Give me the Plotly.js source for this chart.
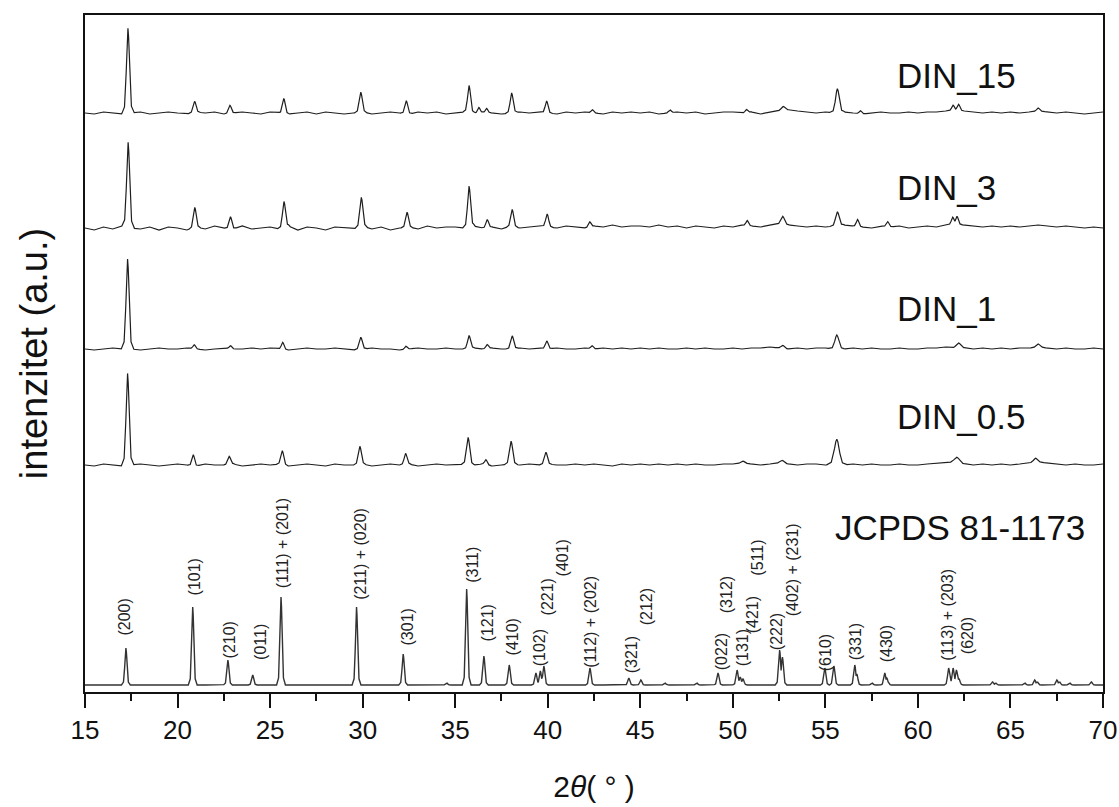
<!DOCTYPE html>
<html>
<head>
<meta charset="utf-8">
<script src="https://cdn.plot.ly/plotly-3.0.1.min.js"></script>
<style>body{margin:0;background:#fff}#chart{width:1119px;height:807px}</style>
</head>
<body>
<div id="chart"></div>
<script>
// ---------------- DATA ----------------
// 2θ axis
const xStart = 15, xEnd = 70;
const baseStep = 0.5;   // spacing of the baseline samples below (2θ, degrees)

// JCPDS 81-1173 reference pattern: peak positions (2θ) and heights
const jcpdsPos = [17.21, 20.82, 22.72, 24.06, 25.59, 29.67, 32.19, 34.54, 35.62, 36.55, 37.92,
                  39.36, 39.6, 39.79, 42.28, 44.38, 45.03, 46.33, 48.05, 49.2, 50.23, 50.4, 50.55,
                  52.53, 52.68, 54.97, 55.46, 56.59, 56.7, 57.52, 58.21, 58.32, 61.66, 61.9, 62.08,
                  62.22, 64.03, 64.2, 65.77, 66.31, 66.45, 67.51, 67.65, 68.2, 69.37];
const jcpdsInt = [37, 78, 25, 10, 88, 78, 31, 2, 96, 29, 20,
                  12, 14, 19, 17, 7, 5, 2, 2, 12, 15, 8, 6,
                  35, 28, 17, 19, 20, 11, 2, 12, 7, 17, 17, 15,
                  6, 3, 2, 2, 5, 3, 5, 3, 2, 3];

// DIN_0.5: peak positions, heights, half-widths at the base (2θ)
const din05Pos = [17.3, 20.85, 22.79, 25.66, 29.85, 32.32, 35.7, 36.66, 38.02, 39.9, 50.55, 52.67, 55.62, 62.1, 66.35];
const din05Int = [92, 11, 8, 14, 18, 11, 27, 5, 23, 12, 2, 3, 25, 6, 4];
const din05Wid = [0.34, 0.3, 0.34, 0.32, 0.34, 0.32, 0.36, 0.3, 0.36, 0.34, 0.4, 0.45, 0.55, 0.6, 0.45];
const din05Base = [0,-1,1,0,-1,0,1,0,-1,0, 1,0,-1,1,0,0,1,-1,0,1, 0,1,-1,0,1,0,-1,1,0,0,
                   1,-1,0,1,0,1,-1,0,1,0, 0,1,0,1,-1,0,1,0,1,0, 1,0,0,1,0,1,0,-1,1,0,
                   1,0,1,0,1,0,1,0,0,1, 1,2,1,0,1,2,1,0,1,1, 0,1,0,1,0,1,0,0,1,0,
                   0,1,2,3,2,1,0,1,0,1, 0,1,2,3,2,1,0,1,0,0,1];

// DIN_1
const din1Pos = [17.3, 20.9, 22.86, 25.68, 29.9, 32.34, 35.75, 36.73, 38.08, 39.95, 42.4, 52.7, 55.62, 62.2, 66.5];
const din1Int = [90, 4, 3, 7, 12, 3, 13, 4, 13, 8, 3, 3, 14, 5, 3];
const din1Wid = [0.34, 0.3, 0.3, 0.3, 0.34, 0.3, 0.34, 0.3, 0.34, 0.32, 0.3, 0.4, 0.45, 0.5, 0.4];
const din1Base = [0,-1,0,1,0,0,-1,0,1,0, 0,1,0,-1,0,1,0,0,1,0, 1,0,-1,0,1,0,0,1,0,-1,
                  0,1,0,0,-1,0,1,0,0,1, 0,0,1,0,1,0,0,1,0,1, 0,1,0,0,1,0,1,0,1,0,
                  1,0,1,0,0,1,0,1,0,0, 1,0,1,1,2,1,0,1,0,1, 1,0,0,1,0,1,0,0,1,0,
                  0,1,1,2,1,1,0,1,0,1, 0,1,1,2,1,0,1,0,0,1,0];

// DIN_3
const din3Pos = [17.33, 20.93, 22.86, 25.75, 29.93, 32.4, 35.75, 36.73, 38.08, 39.97, 42.27, 50.78, 52.7, 55.65, 56.74, 58.37, 61.88, 62.11];
const din3Int = [85, 20, 12, 26, 29, 15, 41, 8, 17, 13, 5, 5, 8, 14, 7, 5, 7, 8];
const din3Wid = [0.34, 0.32, 0.32, 0.34, 0.34, 0.32, 0.34, 0.3, 0.32, 0.34, 0.3, 0.3, 0.4, 0.4, 0.3, 0.3, 0.3, 0.3];
const din3Base = [0,-2,1,-1,2,0,-1,1,-2,1, 0,-2,1,-1,2,0,-1,2,-1,0, 1,-1,2,-2,1,0,-2,1,0,-1,
                  2,-1,1,-2,0,1,-1,2,0,1, 1,0,2,0,1,-1,2,0,1,2, 1,0,2,1,0,2,1,3,1,2,
                  2,1,3,1,2,0,2,1,0,2, 1,3,2,1,3,4,3,2,1,2, 1,2,3,2,1,0,2,1,2,0,
                  1,2,1,3,4,3,2,1,2,1, 2,1,2,3,2,1,2,1,0,1,0];

// DIN_15
const din15Pos = [17.32, 20.92, 22.83, 25.74, 29.9, 32.36, 35.75, 36.28, 36.7, 38.05, 39.94, 42.42, 46.6, 50.74, 52.72, 55.65, 56.9, 61.9, 62.2, 66.5];
const din15Int = [85, 11, 8, 15, 20, 13, 27, 5, 4, 20, 12, 3, 3, 3, 4, 24, 3, 5, 6, 3];
const din15Wid = [0.34, 0.32, 0.32, 0.32, 0.34, 0.32, 0.34, 0.25, 0.25, 0.34, 0.32, 0.3, 0.3, 0.3, 0.45, 0.42, 0.3, 0.3, 0.3, 0.35];
const din15Base = [0,-1,1,0,-1,0,1,-1,0,1, 0,-1,1,0,1,-1,0,1,0,-1, 1,0,-1,0,1,-1,1,0,-1,0,
                   1,-1,0,1,0,-1,1,0,1,-1, 0,1,0,1,0,-1,0,1,0,1, 0,-1,1,0,1,0,-1,1,0,1,
                   0,1,-1,0,1,0,1,-1,0,1, 1,0,1,-1,1,2,3,2,1,0, 1,0,1,0,-1,0,1,0,0,1,
                   0,1,1,2,3,2,1,0,1,0, 1,0,1,2,1,0,1,0,-1,0,1];

const sampleNames = ['DIN_15', 'DIN_3', 'DIN_1', 'DIN_0.5'];
const refName = 'JCPDS 81-1173';

// Miller-index labels of the reference pattern and the 2θ they mark
const hklText = ['(200)', '(101)', '(210)', '(011)', '(111) + (201)', '(211) + (020)', '(301)', '(311)',
                 '(121)', '(410)', '(102)', '(221)', '(401)', '(112) + (202)', '(321)', '(212)',
                 '(022)', '(312)', '(131)', '(421)', '(511)', '(222)', '(402) + (231)', '(610)',
                 '(331)', '(430)', '(113) + (203)', '(620)'];
const hklPos = [17.11, 20.94, 22.83, 24.45, 25.69, 29.85, 32.45, 35.9,
                36.77, 38.12, 39.57, 40.01, 40.82, 42.27, 44.54, 45.35,
                49.4, 49.67, 50.54, 51.08, 51.29, 52.37, 53.24, 55.02,
                56.64, 58.32, 61.56, 62.69];

// ---------------- LAYOUT / STYLE ----------------
const offsets = {jcpds: 7, din05: 227, din1: 343, din3: 464, din15: 579};
const jcpdsHalfWidth = 0.24;
const hklLevel = [54, 95, 32, 30, 102, 90, 45, 107, 49, 35, 24, 75, 114, 22, 17, 65,
                  20, 77, 24, 57, 114, 40, 74, 19, 30, 28, 29, 36];
const PEAK_SHAPE = [[-1,0],[-0.55,0.08],[-0.3,0.45],[-0.1,0.9],[0,1],[0.1,0.9],[0.3,0.45],[0.55,0.08],[1,0]];

function shapeAt(u) {
  if (u <= -1 || u >= 1) return 0;
  for (let k = 0; k < PEAK_SHAPE.length - 1; k++) {
    const a = PEAK_SHAPE[k], b = PEAK_SHAPE[k + 1];
    if (u >= a[0] && u <= b[0]) return a[1] + (b[1] - a[1]) * (u - a[0]) / (b[0] - a[0]);
  }
  return 0;
}

function buildTrace(pos, ints, wids, base, offset) {
  const xsSet = new Set();
  const n = Math.round((xEnd - xStart) / baseStep) + 1;
  for (let i = 0; i < n; i++) xsSet.add(+(xStart + i * baseStep).toFixed(4));
  pos.forEach((p, j) => PEAK_SHAPE.forEach(s => {
    const x = +(p + s[0] * wids[j]).toFixed(4);
    if (x >= xStart && x <= xEnd) xsSet.add(x);
  }));
  const xs = Array.from(xsSet).sort((a, b) => a - b);
  const ys = xs.map(x => {
    let b = 0;
    if (base) {
      const f = (x - xStart) / baseStep;
      const i0 = Math.min(Math.floor(f), base.length - 1), i1 = Math.min(i0 + 1, base.length - 1);
      b = base[i0] + (base[i1] - base[i0]) * (f - i0);
    }
    let pk = 0;
    pos.forEach((p, j) => { pk = Math.max(pk, ints[j] * shapeAt((x - p) / wids[j])); });
    return offset + b + pk;
  });
  return {x: xs, y: ys};
}

const lineCol = '#1e1e1e';
const traces = [];
function addTrace(name, d, w, col) {
  traces.push({type: 'scatter', mode: 'lines', name: name, x: d.x, y: d.y,
               line: {color: col, width: w}, hoverinfo: 'skip'});
}
addTrace(refName, buildTrace(jcpdsPos, jcpdsInt, jcpdsPos.map(() => jcpdsHalfWidth), null, offsets.jcpds), 1.4, '#333');
addTrace('DIN_0.5', buildTrace(din05Pos, din05Int, din05Wid, din05Base, offsets.din05), 1.2, lineCol);
addTrace('DIN_1', buildTrace(din1Pos, din1Int, din1Wid, din1Base, offsets.din1), 1.2, lineCol);
addTrace('DIN_3', buildTrace(din3Pos, din3Int, din3Wid, din3Base, offsets.din3), 1.2, lineCol);
addTrace('DIN_15', buildTrace(din15Pos, din15Int, din15Wid, din15Base, offsets.din15), 1.2, lineCol);

const FONT = 'Arial, "Liberation Sans", sans-serif';
const annotations = [];
hklText.forEach((t, i) => {
  annotations.push({x: hklPos[i], y: hklLevel[i], xref: 'x', yref: 'y', text: t, textangle: -90,
                    showarrow: false, xanchor: 'center', yanchor: 'bottom',
                    font: {size: 16, family: FONT, color: '#222'}});
});
const sampleLabelY = [617, 505, 384, 276];
sampleNames.forEach((t, i) => {
  annotations.push({x: 58.75, y: sampleLabelY[i], xref: 'x', yref: 'y', text: t, showarrow: false,
                    xanchor: 'left', yanchor: 'middle', font: {size: 35, family: FONT, color: '#111'}});
});
annotations.push({x: 55.4, y: 165, xref: 'x', yref: 'y', text: refName, showarrow: false,
                  xanchor: 'left', yanchor: 'middle', font: {size: 35, family: FONT, color: '#111'}});

const layout = {
  width: 1119, height: 807,
  margin: {l: 85, r: 16, t: 15, b: 115},
  paper_bgcolor: '#fff', plot_bgcolor: '#fff',
  showlegend: false,
  font: {family: FONT, color: '#111'},
  xaxis: {
    range: [xStart, xEnd], tick0: 15, dtick: 5, ticks: 'outside', ticklen: 14, tickwidth: 2,
    tickcolor: '#111', showline: true, linewidth: 2, linecolor: '#111', mirror: true,
    showgrid: false, zeroline: false, tickfont: {size: 26, family: FONT, color: '#111'},
    ticklabelstandoff: 0,
    minor: {tick0: 15, dtick: 2.5, ticks: 'outside', ticklen: 7, tickwidth: 2, tickcolor: '#111', showgrid: false},
    title: {text: '2<i>θ</i>( ° )', font: {size: 30, family: FONT, color: '#111'}, standoff: 32}
  },
  yaxis: {
    range: [0, 677], showticklabels: false, ticks: '', showline: true, mirror: true,
    linewidth: 2, linecolor: '#111', showgrid: false, zeroline: false,
    title: {text: 'intenzitet (a.u.)', font: {size: 38, family: FONT, color: '#111'}, standoff: 24}
  },
  annotations: annotations
};

Plotly.newPlot('chart', traces, layout, {displayModeBar: false, staticPlot: true});
</script>
</body>
</html>
